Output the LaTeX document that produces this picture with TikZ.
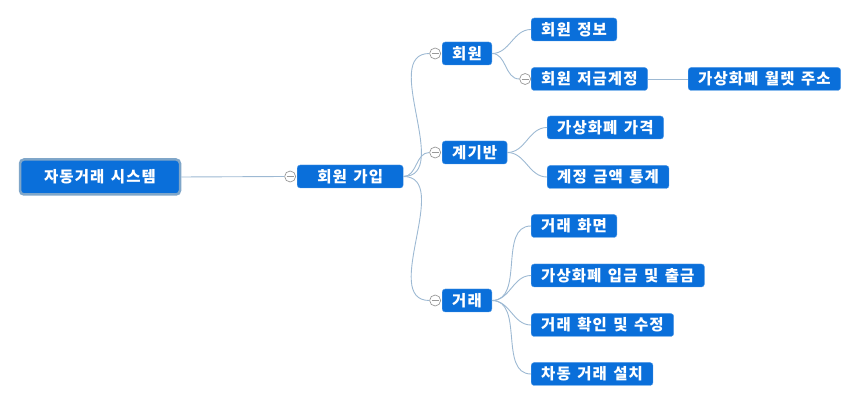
\documentclass[tikz,border=0pt]{standalone}
\usepackage{fontspec}
\setmainfont{Noto Sans CJK KR}[LetterSpace=7,WordSpace=1.4]
\usetikzlibrary{positioning}
\definecolor{nodeblue}{HTML}{0A6FDA}
\definecolor{rootrim}{HTML}{7FA6C9}
\definecolor{linkblue}{HTML}{9DB9D3}
\tikzset{
  topic/.style={rectangle, rounded corners=3, fill=nodeblue, draw=nodeblue!70!white,
    text=white, font=\fontsize{15.5}{17}\selectfont\bfseries, inner xsep=10, inner ysep=0,
    minimum height=23, anchor=west},
  roottopic/.style={topic, draw=rootrim, line width=2.5, rounded corners=4,
    minimum height=35, minimum width=160, anchor=center},
  fold/.style={circle, draw=gray!80, fill=white, minimum size=11, inner sep=0, line width=0.7,
    path picture={\draw[gray!80, line width=0.7] ([xshift=-3.5]path picture bounding box.center)
      -- ([xshift=3.5]path picture bounding box.center);}},
  link/.style={draw=linkblue, line width=0.9}
}
\begin{document}
\begin{tikzpicture}[x=1pt,y=-1pt]
  \useasboundingbox (0,0) rectangle (860,403);
  % main topics
  \node[roottopic] (sys) at (100,177) {자동거래 시스템};
  \node[topic, minimum width=106] (join) at (297,176.5) {회원 가입};
  \node[topic] (mem) at (442,53.5) {회원};
  \node[topic] (dash) at (442,152.5) {계기반};
  \node[topic] (trade) at (442,300.5) {거래};
  % member
  \node[topic] (meminfo) at (531,29.5) {회원 정보};
  \node[topic] (memacct) at (531,79) {회원 저금계정};
  \node[topic] (wallet) at (688,79) {가상화폐 월렛 주소};
  % dashboard
  \node[topic] (price) at (547,127.5) {가상화폐 가격};
  \node[topic] (stats) at (547,177) {계정 금액 통계};
  % trade
  \node[topic] (screen) at (531,226) {거래 화면};
  \node[topic] (inout) at (531,275.5) {가상화폐 입금 및 출금};
  \node[topic] (check) at (531,325) {거래 확인 및 수정};
  \node[topic] (auto) at (531,374) {차동 거래 설치};
  % fold marks
  \node[fold, left=1pt of join.west] (joinf) {};
  \node[fold, left=1pt of mem.west] (memf) {};
  \node[fold, left=1pt of dash.west] (dashf) {};
  \node[fold, left=1pt of trade.west] (tradef) {};
  \node[fold, left=0pt of memacct.west] (memacctf) {};
  % links
  \draw[link] (sys.east) -- (joinf.west);
  \draw[link] (join.east) to[out=0,in=180] (memf.west);
  \draw[link] (join.east) to[out=0,in=180] (dashf.west);
  \draw[link] (join.east) to[out=0,in=180] (tradef.west);
  \draw[link] (mem.east) to[out=0,in=180] (meminfo.west);
  \draw[link] (mem.east) to[out=0,in=180] (memacctf.west);
  \draw[link] (memacct.east) -- (wallet.west);
  \draw[link] (dash.east) to[out=0,in=180] (price.west);
  \draw[link] (dash.east) to[out=0,in=180] (stats.west);
  \foreach \leaf in {screen,inout,check,auto}
    \draw[link] (trade.east) to[out=0,in=180] (\leaf.west);
\end{tikzpicture}
\end{document}
